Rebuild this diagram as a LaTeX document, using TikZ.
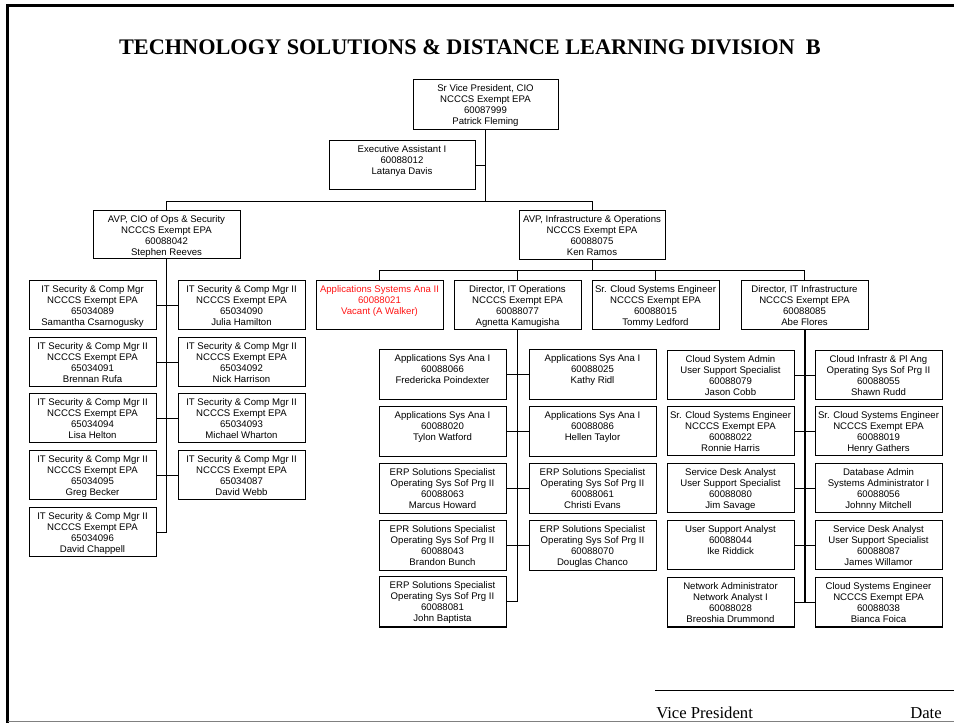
\documentclass[tikz,border=0pt]{standalone}
\usepackage{fontspec}
\setmainfont{Liberation Serif}
\newfontfamily\boxfont{Liberation Sans}
\newcommand\pbx[3]{\parbox[c][\dimexpr #2pt*3/4\relax][t]{\dimexpr #1pt*3/4\relax}{\centering\rule{0pt}{8.5pt}#3\par}}
\tikzset{
  orgbox/.style={draw, line width=0.75pt, inner sep=0pt, anchor=north west, font=\boxfont\fontsize{7.2}{8.3}\selectfont},
  link/.style={line width=0.75pt},
  thicklink/.style={line width=1.5pt}
}
\definecolor{vacred}{RGB}{255,20,20}
\newcommand\ob[7][]{\node[orgbox,#1] (#2) at (#3,#4) {\pbx{#5}{#6}{#7}};}
\begin{document}
\begin{tikzpicture}[x=0.75pt,y=-0.75pt]
\useasboundingbox (0,0) rectangle (954,723);
% frame
\draw[line width=2.2pt] (7.5,723) -- (7.5,5.5) -- (954,5.5);
\draw[gray, line width=1.1pt] (7.5,721.5) -- (954,721.5);
% title
\node[font=\bfseries\fontsize{16.7}{19}\selectfont, anchor=base] (title) at (470,55) {TECHNOLOGY SOLUTIONS \& DISTANCE LEARNING DIVISION\ \ B};
% top
\ob{cio}{412.5}{79.5}{145}{50}{Sr Vice President, CIO\\NCCCS Exempt EPA\\60087999\\Patrick Fleming}
\ob{ea}{328.5}{140.5}{146}{49}{Executive Assistant I\\60088012\\Latanya Davis}
\ob{avpa}{92.5}{210.5}{147}{48}{AVP, CIO of Ops \& Security\\NCCCS Exempt EPA\\60088042\\Stephen Reeves}
\ob{avpb}{518.5}{210.5}{146}{49}{AVP, Infrastructure \& Operations\\NCCCS Exempt EPA\\60088075\\Ken Ramos}
% security group
\ob{sa}{28.5}{280.5}{127}{49}{IT Security \& Comp Mgr\\NCCCS Exempt EPA\\65034089\\Samantha Csarnogusky}
\ob{sb}{177.5}{280.5}{127}{49}{IT Security \& Comp Mgr II\\NCCCS Exempt EPA\\65034090\\Julia Hamilton}
\ob{sc}{28.5}{337.5}{127}{49}{IT Security \& Comp Mgr II\\NCCCS Exempt EPA\\65034091\\Brennan Rufa}
\ob{sd}{177.5}{337.5}{127}{49}{IT Security \& Comp Mgr II\\NCCCS Exempt EPA\\65034092\\Nick Harrison}
\ob{se}{28.5}{393.5}{127}{49}{IT Security \& Comp Mgr II\\NCCCS Exempt EPA\\65034094\\Lisa Helton}
\ob{sf}{177.5}{393.5}{127}{49}{IT Security \& Comp Mgr II\\NCCCS Exempt EPA\\65034093\\Michael Wharton}
\ob{sg}{28.5}{450.5}{127}{49}{IT Security \& Comp Mgr II\\NCCCS Exempt EPA\\65034095\\Greg Becker}
\ob{sh}{177.5}{450.5}{127}{49}{IT Security \& Comp Mgr II\\NCCCS Exempt EPA\\65034087\\David Webb}
\ob{si}{28.5}{507.5}{127}{49}{IT Security \& Comp Mgr II\\NCCCS Exempt EPA\\65034096\\David Chappell}
% second level
\ob[text=vacred]{asa}{315.5}{280.5}{127}{49}{Applications Systems Ana II\\60088021\\Vacant (A Walker)}
\ob{dops}{453.5}{280.5}{127}{49}{Director, IT Operations\\NCCCS Exempt EPA\\60088077\\Agnetta Kamugisha}
\ob{scse}{591.5}{280.5}{127}{49}{Sr. Cloud Systems Engineer\\NCCCS Exempt EPA\\60088015\\Tommy Ledford}
\ob{dinf}{740.5}{280.5}{127}{49}{Director, IT Infrastructure\\NCCCS Exempt EPA\\60088085\\Abe Flores}
% operations group
\ob{oa}{378.5}{349.5}{127}{50}{Applications Sys Ana I\\60088066\\Fredericka Poindexter}
\ob{ob}{528.5}{349.5}{127}{50}{Applications Sys Ana I\\60088025\\Kathy Ridl}
\ob{oc}{378.5}{406.5}{127}{50}{Applications Sys Ana I\\60088020\\Tylon Watford}
\ob{od}{528.5}{406.5}{127}{50}{Applications Sys Ana I\\60088086\\Hellen Taylor}
\ob{oe}{378.5}{463.5}{127}{50}{ERP Solutions Specialist\\Operating Sys Sof Prg II\\60088063\\Marcus Howard}
\ob{of}{528.5}{463.5}{127}{50}{ERP Solutions Specialist\\Operating Sys Sof Prg II\\60088061\\Christi Evans}
\ob{og}{378.5}{520.5}{127}{50}{EPR Solutions Specialist\\Operating Sys Sof Prg II\\60088043\\Brandon Bunch}
\ob{oh}{528.5}{520.5}{127}{50}{ERP Solutions Specialist\\Operating Sys Sof Prg II\\60088070\\Douglas Chanco}
\ob{oi}{378.5}{576.5}{127}{50}{ERP Solutions Specialist\\Operating Sys Sof Prg II\\60088081\\John Baptista}
% infrastructure group
\ob{ia}{666.5}{350.5}{127}{49}{Cloud System Admin\\User Support Specialist\\60088079\\Jason Cobb}
\ob{ib}{814.5}{350.5}{127}{49}{Cloud Infrastr \& Pl Ang\\Operating Sys Sof Prg II\\60088055\\Shawn Rudd}
\ob{ic}{666.5}{406.5}{127}{49}{Sr. Cloud Systems Engineer\\NCCCS Exempt EPA\\60088022\\Ronnie Harris}
\ob{id}{814.5}{406.5}{127}{49}{Sr. Cloud Systems Engineer\\NCCCS Exempt EPA\\60088019\\Henry Gathers}
\ob{ie}{666.5}{463.5}{127}{49}{Service Desk Analyst\\User Support Specialist\\60088080\\Jim Savage}
\ob{if}{814.5}{463.5}{127}{49}{Database Admin\\Systems Administrator I\\60088056\\Johnny Mitchell}
\ob{ig}{666.5}{520.5}{127}{49}{User Support Analyst\\60088044\\Ike Riddick}
\ob{ih}{814.5}{520.5}{127}{49}{Service Desk Analyst\\User Support Specialist\\60088087\\James Willamor}
\ob{ii}{666.5}{577.5}{127}{49}{Network Administrator\\Network Analyst I\\60088028\\Breoshia Drummond}
\ob{ij}{814.5}{577.5}{127}{49}{Cloud Systems Engineer\\NCCCS Exempt EPA\\60088038\\Bianca Foica}
% connectors: top
\path (cio.south) ++(0,71) coordinate (ja);
\draw[link] (cio.south) -- (ja);
\draw[link] (ea.east) -- (ea.east -| cio.south);
\draw[link] (avpa.north) |- (ja) -| (avpb.north);
% security
\draw[link] (avpa.south) -- (si.east -| avpa.south);
\draw[link] (sa.east) -- (sb.west);
\draw[link] (sc.east) -- (sd.west);
\draw[link] (se.east) -- (sf.west);
\draw[link] (sg.east) -- (sh.west);
\draw[link] (si.east) -- (si.east -| avpa.south);
% second level
\path (avpb.south) ++(0,10) coordinate (jb);
\draw[link] (avpb.south) -- (jb);
\draw[link] (asa.north) |- (jb) -| (dinf.north);
\draw[link] (dops.north) -- (dops.north |- jb);
\draw[link] (scse.north) -- (scse.north |- jb);
% operations
\draw[link] (dops.south) -- (oi.east -| dops.south);
\draw[link] (oa.east) -- (ob.west);
\draw[link] (oc.east) -- (od.west);
\draw[link] (oe.east) -- (of.west);
\draw[link] (og.east) -- (oh.west);
\draw[link] (oi.east) -- (oi.east -| dops.south);
% infrastructure
\draw[thicklink] (dinf.south) -- (ii.east -| dinf.south);
\draw[link] (ia.east) -- (ib.west);
\draw[link] (ic.east) -- (id.west);
\draw[link] (ie.east) -- (if.west);
\draw[link] (ig.east) -- (ih.west);
\draw[link] (ii.east) -- (ij.west);
% signature
\coordinate (sigl) at (655,690);
\coordinate (sigr) at (954,690);
\draw[line width=0.7pt] (sigl) -- (sigr);
\node[anchor=base west, inner sep=0pt, font=\fontsize{12.5}{15}\selectfont] (vp) at (656,718) {Vice President};
\node[anchor=base west, inner sep=0pt, font=\fontsize{12.5}{15}\selectfont] (date) at (910,718) {Date};
\end{tikzpicture}
\end{document}
